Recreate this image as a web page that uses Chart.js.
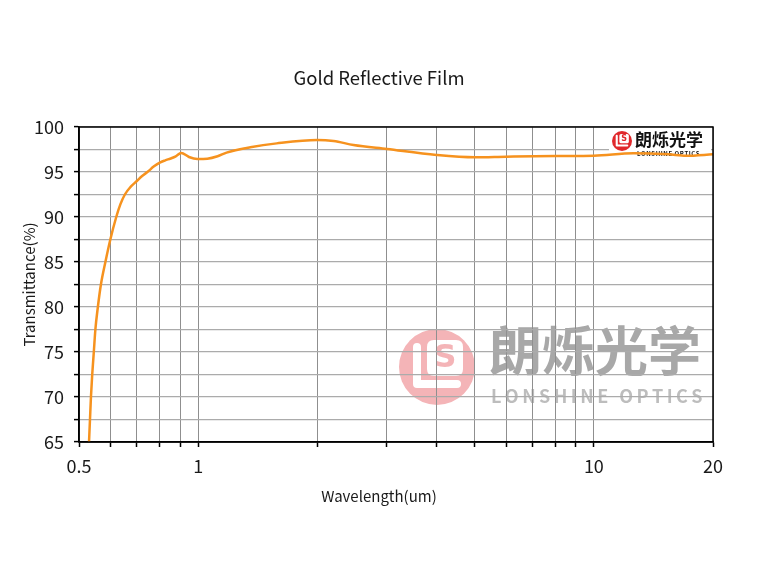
<!DOCTYPE html>
<html>
<head>
<meta charset="utf-8">
<script src="https://cdn.jsdelivr.net/npm/chart.js@4.4.0/dist/chart.umd.min.js"></script>
<style>
  html,body{margin:0;padding:0;background:#fff;}
  #wrap{width:758px;height:561px;}
</style>
</head>
<body>
<div id="wrap"><canvas id="chart" width="758" height="561"></canvas></div>
<script>
// wavelength (um) and transmittance (%)
const wavelength = [0.530, 0.533, 0.536, 0.540, 0.545, 0.550, 0.558, 0.568, 0.583, 0.600,
  0.621, 0.636, 0.653, 0.675, 0.700, 0.722, 0.747, 0.772, 0.800, 0.826,
  0.852, 0.878, 0.906, 0.948, 0.995, 1.055, 1.12, 1.18, 1.355, 1.58,
  2.0, 2.2, 2.47, 3.0, 4.0, 5.0, 6.0, 8.0, 10.0, 12.6,
  15.4, 17.1, 20];
const transmittance = [65, 67.5, 70, 72.5, 75, 77.5, 80, 82.5, 85, 87.5,
  90, 91.4, 92.5, 93.35, 94.0, 94.55, 95.05, 95.6, 96.05, 96.3,
  96.5, 96.74, 97.12, 96.67, 96.44, 96.48, 96.75, 97.15, 97.74, 98.18,
  98.56, 98.44, 98.0, 97.55, 96.89, 96.63, 96.7, 96.78, 96.81, 97.07,
  96.96, 96.8, 96.96];

const xTicks = [0.5, 0.6, 0.7, 0.8, 0.9, 1, 2, 3, 4, 5, 6, 7, 8, 9, 10, 20];
const xLabels = [0.5, 1, 10, 20];
const yTickStep = 2.5;
const yLabelStep = 5;
const xTitle = 'Wavelength(um)';

const FONT = '"Noto Sans CJK SC", "Noto Sans", sans-serif';
const points = wavelength.map((w,i)=>({x:w, y:transmittance[i]}));

function rrect(ctx,x,y,w,h,r){
  ctx.beginPath();
  ctx.moveTo(x+r,y); ctx.lineTo(x+w-r,y); ctx.quadraticCurveTo(x+w,y,x+w,y+r);
  ctx.lineTo(x+w,y+h-r); ctx.quadraticCurveTo(x+w,y+h,x+w-r,y+h);
  ctx.lineTo(x+r,y+h); ctx.quadraticCurveTo(x,y+h,x,y+h-r);
  ctx.lineTo(x,y+r); ctx.quadraticCurveTo(x,y,x+r,y); ctx.closePath();
}

function spaced(ctx, txt, x, y, width){
  const w0 = ctx.measureText(txt).width;
  const sp = (width - w0)/(txt.length-1);
  let cx = x;
  for(const ch of txt){ ctx.fillText(ch, cx, y); cx += ctx.measureText(ch).width + sp; }
}

function logo(ctx, cx, cy, r, bg, fg){
  ctx.fillStyle = bg;
  ctx.beginPath(); ctx.arc(cx,cy,r,0,Math.PI*2); ctx.fill();
  const k = r/38;
  ctx.strokeStyle = fg; ctx.lineWidth = 8*k; ctx.lineCap='round'; ctx.lineJoin='round';
  ctx.beginPath(); ctx.moveTo(cx-20*k, cy-20*k); ctx.lineTo(cx-20*k, cy+17*k); ctx.lineTo(cx+20*k, cy+17*k); ctx.stroke();
  ctx.fillStyle = fg; rrect(ctx, cx-10*k, cy-27*k, 36*k, 36*k, 7*k); ctx.fill();
  ctx.fillStyle = bg; ctx.font = 'bold '+Math.round(32*k)+'px "DejaVu Sans"';
  ctx.textAlign='center'; ctx.textBaseline='middle';
  ctx.fillText('S', cx+8*k, cy-8*k);
}

const decor = {
  id:'decor',
  beforeDraw(chart){
    // big pale watermark, under the grid
    const ctx = chart.ctx;
    ctx.save();
    logo(ctx, 437, 367, 38, '#f4b4b7', '#ffffff');
    ctx.fillStyle = '#a8a8a8';
    ctx.font = 'bold 53px '+FONT; ctx.textAlign='left'; ctx.textBaseline='middle';
    ctx.fillText('朗烁光学', 489, 351);
    ctx.fillStyle = '#bdbdbd';
    ctx.font = 'bold 18px '+FONT;
    spaced(ctx, 'LONSHINE OPTICS', 491, 396, 210);
    ctx.restore();
  },
  beforeDatasetsDraw(chart){
    // small corner logo
    const ctx = chart.ctx;
    ctx.save();
    ctx.fillStyle = '#fff'; ctx.fillRect(609, 129, 102, 28);
    logo(ctx, 622, 141, 10, '#e0282c', '#ffffff');
    ctx.fillStyle = '#111';
    ctx.font = 'bold 17px '+FONT; ctx.textAlign='left'; ctx.textBaseline='middle';
    ctx.fillText('朗烁光学', 635, 140);
    ctx.font = 'bold 6px '+FONT;
    spaced(ctx, 'LONSHINE OPTICS', 637, 154, 62);
    ctx.restore();
  },
  afterDatasetsDraw(chart){
    const {ctx, chartArea:a} = chart;
    ctx.save();
    ctx.strokeStyle = '#000'; ctx.lineWidth = 1.5;
    ctx.strokeRect(a.left, a.top, a.right-a.left, a.bottom-a.top);
    // x axis title, centred on the page like the original
    ctx.fillStyle = '#1a1a1a';
    ctx.font = '15px '+FONT; ctx.textAlign='center'; ctx.textBaseline='middle';
    ctx.fillText(xTitle, chart.width/2, 496);
    ctx.restore();
  }
};

new Chart(document.getElementById('chart'), {
  type:'line',
  data:{ datasets:[{
    data: points,
    borderColor:'#f6921e',
    borderWidth:2.5,
    pointRadius:0,
    fill:false,
    cubicInterpolationMode:'monotone'
  }]},
  options:{
    responsive:false,
    animation:false,
    layout:{ padding:{left:0, right:0, top:0, bottom:0} },
    plugins:{
      legend:{display:false},
      tooltip:{enabled:false},
      title:{ display:true, text:'Gold Reflective Film', color:'#1a1a1a',
        font:{family:FONT, size:18.5, weight:'normal'}, padding:{top:66.9, bottom:37.9} }
    },
    scales:{
      x:{
        type:'logarithmic', min:0.5, max:20,
        afterBuildTicks: s => { s.ticks = xTicks.map(v=>({value:v})); },
        afterFit: s => { s.height = 119; },
        ticks:{ autoSkip:false, maxRotation:0, padding:8, color:'#1a1a1a',
          font:{family:FONT, size:18},
          callback: v => xLabels.includes(v) ? String(v) : '' },
        grid:{ color:'#8f8f8f', lineWidth:1, tickLength:5, tickColor:'#000', tickWidth:1.5 },
        border:{ color:'#000', width:1.5 }
      },
      y:{
        min:65, max:100,
        afterFit: s => { s.width = 79; },
        ticks:{ stepSize:yTickStep, autoSkip:false, padding:10, color:'#1a1a1a',
          font:{family:FONT, size:18},
          callback: v => v % yLabelStep === 0 ? String(v) : '' },
        grid:{ color:'#ababab', lineWidth:1.2, tickLength:5, tickColor:'#000', tickWidth:1.5 },
        border:{ color:'#000', width:1.5 },
        title:{ display:true, text:'Transmittance(%)', color:'#1a1a1a',
          font:{family:FONT, size:15}, padding:{top:20.5, bottom:0} }
      },
      yR:{
        position:'right', min:65, max:100,
        afterFit: s => { s.width = 45; },
        ticks:{display:false},
        grid:{display:false},
        border:{display:false}
      }
    }
  },
  plugins:[decor]
});
</script>
</body>
</html>
